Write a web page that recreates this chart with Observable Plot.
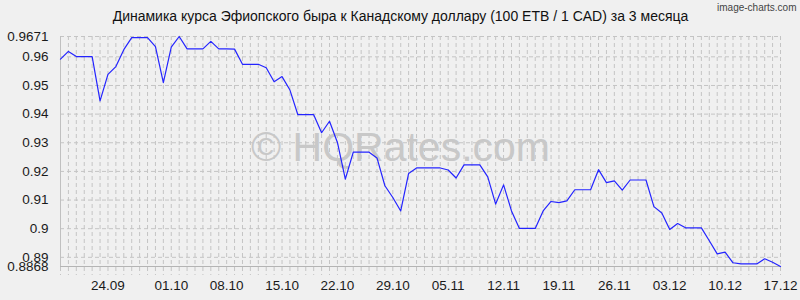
<!DOCTYPE html>
<html><head><meta charset="utf-8">
<script src="https://cdn.jsdelivr.net/npm/d3@7"></script>
<script src="https://cdn.jsdelivr.net/npm/@observablehq/plot@0.6"></script>
<style>body{margin:0;background:#f0f0f0;} svg{display:block}</style>
</head><body><div id="chart"></div>
<script>
const title = "Динамика курса Эфиопского быра к Канадскому доллару (100 ETB / 1 CAD) за 3 месяца";
const watermark = "© HQRates.com";
const credit = "image-charts.com";
const rates = [
  0.9592, 0.9619, 0.9601, 0.9601, 0.9601, 0.9446, 0.9539, 0.9566, 0.9625, 0.9667,
  0.9667, 0.9667, 0.9636, 0.9510, 0.9634, 0.9671, 0.9628, 0.9628, 0.9628, 0.9654,
  0.9628, 0.9628, 0.9627, 0.9574, 0.9574, 0.9574, 0.9562, 0.9513, 0.9531, 0.9484,
  0.9398, 0.9398, 0.9398, 0.9335, 0.9375, 0.9301, 0.9173, 0.9267, 0.9267, 0.9267,
  0.9247, 0.9150, 0.9109, 0.9062, 0.9193, 0.9212, 0.9212, 0.9212, 0.9212, 0.9205,
  0.9177, 0.9223, 0.9223, 0.9223, 0.9181, 0.9086, 0.9153, 0.9062, 0.9001, 0.9001,
  0.9001, 0.9062, 0.9095, 0.9091, 0.9097, 0.9136, 0.9136, 0.9136, 0.9206, 0.9161,
  0.9167, 0.9135, 0.9170, 0.9170, 0.9170, 0.9077, 0.9055, 0.8997, 0.9018, 0.9003,
  0.9003, 0.9003, 0.8958, 0.8912, 0.8918, 0.8881, 0.8877, 0.8877, 0.8877, 0.8895,
  0.8883, 0.8868
];
const yTicks = [0.9671, 0.96, 0.95, 0.94, 0.93, 0.92, 0.91, 0.9, 0.89, 0.8868];
const yTickLabels = ["0.9671", "0.96", "0.95", "0.94", "0.93", "0.92", "0.91", "0.9", "0.89", "0.8868"];
const xTickIndex = [6, 14, 21, 28, 35, 42, 49, 56, 63, 70, 77, 84, 91];
const xTickLabels = ["24.09", "01.10", "08.10", "15.10", "22.10", "29.10", "05.11", "12.11", "19.11", "26.11", "03.12", "10.12", "17.12"];

const data = rates.map((v, i) => ({i, v}));
const font = "'Liberation Sans', Arial, sans-serif";

const chart = Plot.plot({
  width: 800, height: 300,
  marginTop: 36, marginBottom: 34, marginLeft: 60, marginRight: 20,
  style: {background: "#f0f0f0", fontFamily: font, fontSize: "13.5px", color: "#1a1a1a"},
  x: {domain: [0, rates.length - 1], ticks: xTickIndex, tickFormat: (d, k) => xTickLabels[k], tickSize: 0, tickPadding: 14, label: null},
  y: {domain: [yTicks[yTicks.length - 1], yTicks[0]], ticks: yTicks, tickFormat: (d, k) => yTickLabels[k], tickSize: 0, tickPadding: 12, label: null},
  marks: [
    Plot.ruleX(data, {x: "i", stroke: "#c4c4c4", strokeDasharray: "4,3", insetBottom: -9}),
    Plot.ruleY(yTicks, {stroke: "#c4c4c4", strokeDasharray: "4,3"}),
    Plot.ruleX([0], {stroke: "#c0c0c0"}),
    Plot.ruleY([yTicks[yTicks.length - 1]], {stroke: "#b4b4b4"}),
    Plot.text([watermark], {frameAnchor: "middle", dx: -20, dy: -4, fontSize: 41, fill: "#c8c8c8", fontFamily: font}),
    Plot.line(data, {x: "i", y: "v", stroke: "#2424ff", strokeWidth: 1.2}),
    Plot.text([title], {frameAnchor: "top", dx: -20, dy: -25, fontSize: 14, fill: "#111", fontFamily: font}),
    Plot.text([credit], {frameAnchor: "top-right", dx: 16, dy: -33, fontSize: 10, fill: "#444", fontFamily: font})
  ]
});
document.getElementById("chart").append(chart);
</script>
</body></html>
